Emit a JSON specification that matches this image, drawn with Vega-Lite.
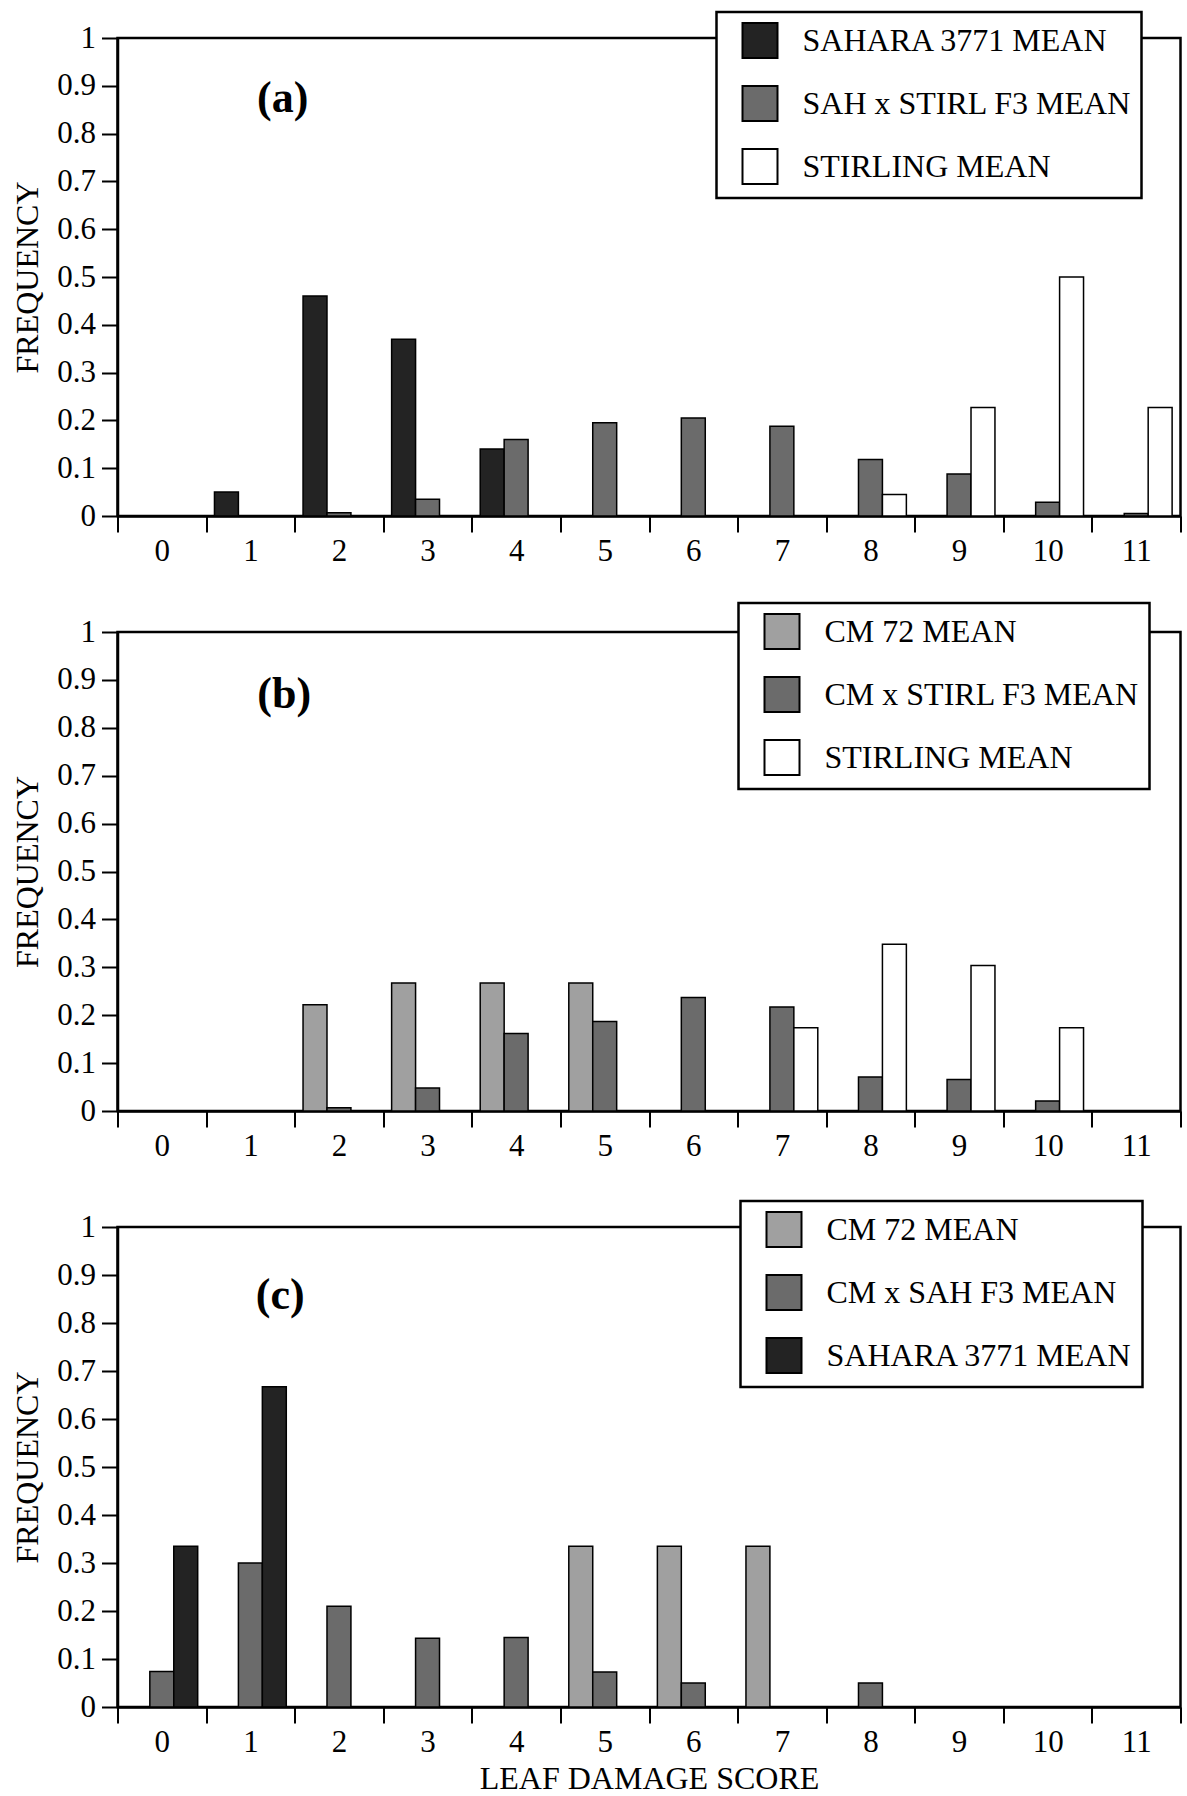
{
  "$schema": "https://vega.github.io/schema/vega-lite/v6.json",
  "padding": {"left": 10.5, "top": 9, "right": 5, "bottom": 2},
  "background": "white",
  "config": {
    "font": "Liberation Serif",
    "view": {"stroke": "black", "strokeWidth": 2.5},
    "axis": {"domainColor": "black", "domainWidth": 2.5, "tickColor": "black", "tickWidth": 2, "labelColor": "black", "labelFont": "Liberation Serif", "labelFontSize": 31, "titleFont": "Liberation Serif", "titleFontSize": 32, "titleFontWeight": "normal", "titleColor": "black", "grid": false},
    "legend": {"symbolType": "square", "symbolSize": 1225, "symbolStrokeColor": "black", "symbolStrokeWidth": 2, "symbolOpacity": 1, "symbolOffset": 15, "labelFont": "Liberation Serif", "labelFontSize": 32, "labelColor": "black", "labelOffset": 24, "rowPadding": 20, "padding": 10, "strokeColor": "black", "strokeWidth": 2.5, "fillColor": "white", "labelLimit": 600, "labelExpr": "datum.label + '\u00a0\u00a0\u00a0\u00a0'"}
  },
  "bounds": "flush",
  "spacing": 116,
  "resolve": {"scale": {"fill": "independent", "xOffset": "independent"}, "legend": {"fill": "independent"}},
  "vconcat": [
    {
      "width": 1063, "height": 478,
      "layer": [
        {
          "data": {"values": [
            {"score": 1, "series": "SAHARA 3771 MEAN", "frequency": 0.05},
            {"score": 2, "series": "SAHARA 3771 MEAN", "frequency": 0.46},
            {"score": 3, "series": "SAHARA 3771 MEAN", "frequency": 0.37},
            {"score": 4, "series": "SAHARA 3771 MEAN", "frequency": 0.14},
            {"score": 2, "series": "SAH x STIRL F3 MEAN", "frequency": 0.007},
            {"score": 3, "series": "SAH x STIRL F3 MEAN", "frequency": 0.035},
            {"score": 4, "series": "SAH x STIRL F3 MEAN", "frequency": 0.16},
            {"score": 5, "series": "SAH x STIRL F3 MEAN", "frequency": 0.195},
            {"score": 6, "series": "SAH x STIRL F3 MEAN", "frequency": 0.205},
            {"score": 7, "series": "SAH x STIRL F3 MEAN", "frequency": 0.188},
            {"score": 8, "series": "SAH x STIRL F3 MEAN", "frequency": 0.118},
            {"score": 9, "series": "SAH x STIRL F3 MEAN", "frequency": 0.088},
            {"score": 10, "series": "SAH x STIRL F3 MEAN", "frequency": 0.029},
            {"score": 11, "series": "SAH x STIRL F3 MEAN", "frequency": 0.005},
            {"score": 8, "series": "STIRLING MEAN", "frequency": 0.045},
            {"score": 9, "series": "STIRLING MEAN", "frequency": 0.227},
            {"score": 10, "series": "STIRLING MEAN", "frequency": 0.5},
            {"score": 11, "series": "STIRLING MEAN", "frequency": 0.227}
          ]},
          "mark": {"type": "bar", "stroke": "black", "strokeWidth": 1.5},
          "encoding": {
            "x": {"field": "score", "type": "ordinal", "scale": {"domain": [0,1,2,3,4,5,6,7,8,9,10,11], "paddingInner": 0, "paddingOuter": 0}, "axis": {"title": null, "labelAngle": 0, "tickBand": "extent", "tickSize": 16, "labelPadding": 4}},
            "xOffset": {"field": "series", "type": "nominal", "scale": {"domain": ["SAHARA 3771 MEAN", "SAH x STIRL F3 MEAN", "STIRLING MEAN"], "paddingOuter": 0.35, "paddingInner": 0}},
            "y": {"field": "frequency", "type": "quantitative", "scale": {"domain": [0, 1], "nice": false}, "axis": {"title": "FREQUENCY", "values": [0,0.1,0.2,0.3,0.4,0.5,0.6,0.7,0.8,0.9,1], "format": "~g", "tickSize": 16, "labelPadding": 6, "titlePadding": 12}},
            "fill": {"field": "series", "type": "nominal", "scale": {"domain": ["SAHARA 3771 MEAN", "SAH x STIRL F3 MEAN", "STIRLING MEAN"], "range": ["#232323", "#6b6b6b", "#ffffff"]}, "legend": {"orient": "none", "legendX": 599, "legendY": -26, "title": null}}
          }
        },
        {
          "data": {"values": [{"label": "(a)"}]},
          "mark": {"type": "text", "fontSize": 44, "fontWeight": "bold", "dx": -12, "align": "center", "baseline": "middle", "color": "black"},
          "encoding": {"x": {"datum": 2, "type": "ordinal", "bandPosition": 0}, "y": {"datum": 0.872, "type": "quantitative"}, "text": {"field": "label"}}
        }
      ]
    },
    {
      "width": 1063, "height": 479,
      "layer": [
        {
          "data": {"values": [
            {"score": 2, "series": "CM 72 MEAN", "frequency": 0.222},
            {"score": 3, "series": "CM 72 MEAN", "frequency": 0.267},
            {"score": 4, "series": "CM 72 MEAN", "frequency": 0.267},
            {"score": 5, "series": "CM 72 MEAN", "frequency": 0.267},
            {"score": 2, "series": "CM x STIRL F3 MEAN", "frequency": 0.007},
            {"score": 3, "series": "CM x STIRL F3 MEAN", "frequency": 0.048},
            {"score": 4, "series": "CM x STIRL F3 MEAN", "frequency": 0.162},
            {"score": 5, "series": "CM x STIRL F3 MEAN", "frequency": 0.187},
            {"score": 6, "series": "CM x STIRL F3 MEAN", "frequency": 0.237},
            {"score": 7, "series": "CM x STIRL F3 MEAN", "frequency": 0.217},
            {"score": 8, "series": "CM x STIRL F3 MEAN", "frequency": 0.071},
            {"score": 9, "series": "CM x STIRL F3 MEAN", "frequency": 0.066},
            {"score": 10, "series": "CM x STIRL F3 MEAN", "frequency": 0.021},
            {"score": 7, "series": "STIRLING MEAN", "frequency": 0.174},
            {"score": 8, "series": "STIRLING MEAN", "frequency": 0.348},
            {"score": 9, "series": "STIRLING MEAN", "frequency": 0.304},
            {"score": 10, "series": "STIRLING MEAN", "frequency": 0.174}
          ]},
          "mark": {"type": "bar", "stroke": "black", "strokeWidth": 1.5},
          "encoding": {
            "x": {"field": "score", "type": "ordinal", "scale": {"domain": [0,1,2,3,4,5,6,7,8,9,10,11], "paddingInner": 0, "paddingOuter": 0}, "axis": {"title": null, "labelAngle": 0, "tickBand": "extent", "tickSize": 16, "labelPadding": 4}},
            "xOffset": {"field": "series", "type": "nominal", "scale": {"domain": ["CM 72 MEAN", "CM x STIRL F3 MEAN", "STIRLING MEAN"], "paddingOuter": 0.35, "paddingInner": 0}},
            "y": {"field": "frequency", "type": "quantitative", "scale": {"domain": [0, 1], "nice": false}, "axis": {"title": "FREQUENCY", "values": [0,0.1,0.2,0.3,0.4,0.5,0.6,0.7,0.8,0.9,1], "format": "~g", "tickSize": 16, "labelPadding": 6, "titlePadding": 12}},
            "fill": {"field": "series", "type": "nominal", "scale": {"domain": ["CM 72 MEAN", "CM x STIRL F3 MEAN", "STIRLING MEAN"], "range": ["#a0a0a0", "#6b6b6b", "#ffffff"]}, "legend": {"orient": "none", "legendX": 621, "legendY": -29, "title": null}}
          }
        },
        {
          "data": {"values": [{"label": "(b)"}]},
          "mark": {"type": "text", "fontSize": 44, "fontWeight": "bold", "dx": -10.5, "align": "center", "baseline": "middle", "color": "black"},
          "encoding": {"x": {"datum": 2, "type": "ordinal", "bandPosition": 0}, "y": {"datum": 0.868, "type": "quantitative"}, "text": {"field": "label"}}
        }
      ]
    },
    {
      "width": 1063, "height": 480,
      "layer": [
        {
          "data": {"values": [
            {"score": 5, "series": "CM 72 MEAN", "frequency": 0.335},
            {"score": 6, "series": "CM 72 MEAN", "frequency": 0.335},
            {"score": 7, "series": "CM 72 MEAN", "frequency": 0.335},
            {"score": 0, "series": "CM x SAH F3 MEAN", "frequency": 0.074},
            {"score": 1, "series": "CM x SAH F3 MEAN", "frequency": 0.3},
            {"score": 2, "series": "CM x SAH F3 MEAN", "frequency": 0.21},
            {"score": 3, "series": "CM x SAH F3 MEAN", "frequency": 0.143},
            {"score": 4, "series": "CM x SAH F3 MEAN", "frequency": 0.145},
            {"score": 5, "series": "CM x SAH F3 MEAN", "frequency": 0.073},
            {"score": 6, "series": "CM x SAH F3 MEAN", "frequency": 0.05},
            {"score": 8, "series": "CM x SAH F3 MEAN", "frequency": 0.05},
            {"score": 0, "series": "SAHARA 3771 MEAN", "frequency": 0.335},
            {"score": 1, "series": "SAHARA 3771 MEAN", "frequency": 0.667}
          ]},
          "mark": {"type": "bar", "stroke": "black", "strokeWidth": 1.5},
          "encoding": {
            "x": {"field": "score", "type": "ordinal", "scale": {"domain": [0,1,2,3,4,5,6,7,8,9,10,11], "paddingInner": 0, "paddingOuter": 0}, "axis": {"title": "LEAF DAMAGE SCORE", "labelAngle": 0, "tickBand": "extent", "tickSize": 16, "labelPadding": 4, "titlePadding": 6}},
            "xOffset": {"field": "series", "type": "nominal", "scale": {"domain": ["CM 72 MEAN", "CM x SAH F3 MEAN", "SAHARA 3771 MEAN"], "paddingOuter": 0.35, "paddingInner": 0}},
            "y": {"field": "frequency", "type": "quantitative", "scale": {"domain": [0, 1], "nice": false}, "axis": {"title": "FREQUENCY", "values": [0,0.1,0.2,0.3,0.4,0.5,0.6,0.7,0.8,0.9,1], "format": "~g", "tickSize": 16, "labelPadding": 6, "titlePadding": 12}},
            "fill": {"field": "series", "type": "nominal", "scale": {"domain": ["CM 72 MEAN", "CM x SAH F3 MEAN", "SAHARA 3771 MEAN"], "range": ["#a0a0a0", "#6b6b6b", "#232323"]}, "legend": {"orient": "none", "legendX": 623, "legendY": -26, "title": null}}
          }
        },
        {
          "data": {"values": [{"label": "(c)"}]},
          "mark": {"type": "text", "fontSize": 44, "fontWeight": "bold", "dx": -14.5, "align": "center", "baseline": "middle", "color": "black"},
          "encoding": {"x": {"datum": 2, "type": "ordinal", "bandPosition": 0}, "y": {"datum": 0.857, "type": "quantitative"}, "text": {"field": "label"}}
        }
      ]
    }
  ]
}
